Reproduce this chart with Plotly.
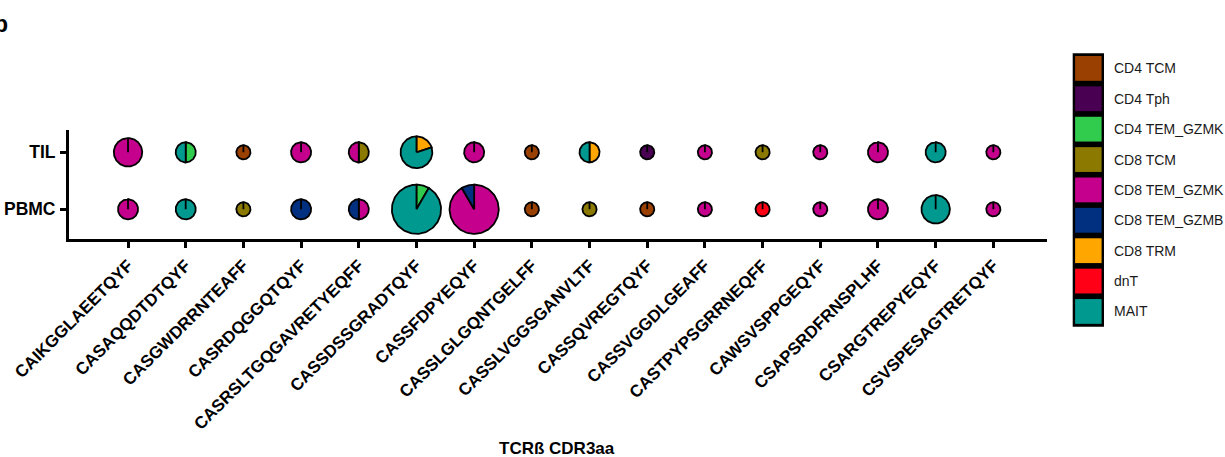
import numpy as np
import plotly.graph_objects as go

# TCRβ CDR3 amino-acid sequences (x axis)
clonotypes = [
    "CAIKGGLAEETQYF", "CASAQQDTDTQYF", "CASGWDRRNTEAFF", "CASRDQGGQTQYF",
    "CASRSLTGQGAVRETYEQFF", "CASSDSSGRADTQYF", "CASSFDPYEQYF", "CASSLGLGQNTGELFF",
    "CASSLVGGSGANVLTF", "CASSQVREGTQYF", "CASSVGGDLGEAFF", "CASTPYPSGRRNEQFF",
    "CAWSVSPPGEQYF", "CSAPSRDFRNSPLHF", "CSARGTREPYEQYF", "CSVSPESAGTRETQYF",
]

# tissues (y axis, top to bottom)
samples = ["TIL", "PBMC"]

# T-cell subsets and their colours (legend order = slice order)
cell_types = [
    "CD4 TCM", "CD4 Tph", "CD4 TEM_GZMK", "CD8 TCM", "CD8 TEM_GZMK",
    "CD8 TEM_GZMB", "CD8 TRM", "dnT", "MAIT",
]
cell_colors = [
    "#9A4000", "#4A0052", "#31CC4E", "#8C7A00", "#C4008C",
    "#00307F", "#FFA600", "#FF0016", "#00998F",
]

# cells per subset for each clonotype in the tumour infiltrate
til_counts = [
    {"CD8 TEM_GZMK": 4},
    {"CD4 TEM_GZMK": 1, "MAIT": 1},
    {"CD4 TCM": 1},
    {"CD8 TEM_GZMK": 2},
    {"CD8 TCM": 1, "CD8 TEM_GZMK": 1},
    {"CD8 TRM": 1, "MAIT": 4},
    {"CD8 TEM_GZMK": 2},
    {"CD4 TCM": 1},
    {"CD8 TRM": 1, "MAIT": 1},
    {"CD4 Tph": 1},
    {"CD8 TEM_GZMK": 1},
    {"CD8 TCM": 1},
    {"CD8 TEM_GZMK": 1},
    {"CD8 TEM_GZMK": 2},
    {"MAIT": 2},
    {"CD8 TEM_GZMK": 1},
]

# cells per subset for each clonotype in peripheral blood
pbmc_counts = [
    {"CD8 TEM_GZMK": 2},
    {"MAIT": 2},
    {"CD8 TCM": 1},
    {"CD8 TEM_GZMB": 2},
    {"CD8 TEM_GZMK": 1, "CD8 TEM_GZMB": 1},
    {"CD4 TEM_GZMK": 1, "MAIT": 11},
    {"CD8 TEM_GZMK": 11, "CD8 TEM_GZMB": 1},
    {"CD4 TCM": 1},
    {"CD8 TCM": 1},
    {"CD4 TCM": 1},
    {"CD8 TEM_GZMK": 1},
    {"dnT": 1},
    {"CD8 TEM_GZMK": 1},
    {"CD8 TEM_GZMK": 2},
    {"MAIT": 4},
    {"CD8 TEM_GZMK": 1},
]

# ---- layout geometry ----
W, H = 1225, 457
M = dict(l=69, r=178, t=130, b=218, pad=0)
x_range = [-1.023, 15.93]
y_range = [-0.521, 1.391]
plot_w = W - M["l"] - M["r"]
plot_h = H - M["t"] - M["b"]
px_per_x = plot_w / (x_range[1] - x_range[0])
px_per_y = plot_h / (y_range[1] - y_range[0])

FONT = "Liberation Sans, Arial, sans-serif"


def pie_radius_px(total):
    # pie area grows with clone size
    return 7.1 * np.sqrt(total)


fig = go.Figure()

color_of = dict(zip(cell_types, cell_colors))
for s_idx, counts in enumerate([til_counts, pbmc_counts]):
    yc = len(samples) - 1 - s_idx
    for xc, clone in enumerate(counts):
        total = sum(clone.values())
        r = pie_radius_px(total)
        rx, ry = r / px_per_x, r / px_per_y
        start = 0
        for ct in cell_types:
            n = clone.get(ct, 0)
            if n == 0:
                continue
            a0 = 2 * np.pi * start / total
            a1 = 2 * np.pi * (start + n) / total
            ang = np.linspace(a0, a1, max(4, int(120 * n / total) + 2))
            xs = np.concatenate([[xc], xc + rx * np.sin(ang), [xc]])
            ys = np.concatenate([[yc], yc + ry * np.cos(ang), [yc]])
            fig.add_trace(go.Scatter(
                x=xs, y=ys, mode="lines", fill="toself",
                fillcolor=color_of[ct],
                line=dict(color="black", width=1.8),
                hoverinfo="skip", showlegend=False,
            ))
            start += n


def to_paper_x(px):
    return (px - M["l"]) / plot_w


def to_paper_y(py):
    return 1 - (py - M["t"]) / plot_h


# ---- legend: stacked swatches with black frame ----
shapes = []
annotations = []
lx0, lx1 = 1072.7, 1104.0
ly0, pitch = 53.3, 30.38
shapes.append(dict(
    type="rect", xref="paper", yref="paper",
    x0=to_paper_x(lx0), x1=to_paper_x(lx1),
    y0=to_paper_y(ly0), y1=to_paper_y(ly0 + pitch * len(cell_types)),
    fillcolor="black", line=dict(width=0), layer="above",
))
for i, (ct, col) in enumerate(zip(cell_types, cell_colors)):
    top = ly0 + 2.7 + pitch * i
    shapes.append(dict(
        type="rect", xref="paper", yref="paper",
        x0=to_paper_x(lx0 + 2.4), x1=to_paper_x(lx1 - 2.4),
        y0=to_paper_y(top), y1=to_paper_y(top + 24.8),
        fillcolor=col, line=dict(width=0), layer="above",
    ))
    annotations.append(dict(
        xref="paper", yref="paper", x=to_paper_x(1111.5), y=to_paper_y(top + 12.4),
        xanchor="left", yanchor="middle", showarrow=False, text=ct,
        font=dict(family=FONT, size=14, color="#1a1a1a"),
    ))

# axis title and panel letter
annotations.append(dict(
    xref="paper", yref="paper", x=to_paper_x(557), y=to_paper_y(448),
    xanchor="center", yanchor="middle", showarrow=False, text="TCRß CDR3aa",
    font=dict(family=FONT, size=17, color="black", weight="bold"),
))
annotations.append(dict(
    xref="paper", yref="paper", x=to_paper_x(-8), y=to_paper_y(24),
    xanchor="left", yanchor="middle", showarrow=False, text="b",
    font=dict(family=FONT, size=23, color="black", weight="bold"),
))

axis_style = dict(
    showline=True, linewidth=3, linecolor="black",
    ticks="outside", ticklen=6, tickwidth=3, tickcolor="black",
    showgrid=False, zeroline=False, fixedrange=True, automargin=False,
)

fig.update_layout(
    width=W, height=H, margin=M,
    paper_bgcolor="white", plot_bgcolor="white",
    showlegend=False,
    xaxis=dict(range=x_range, tickmode="array",
               tickvals=list(range(len(clonotypes))), ticktext=clonotypes,
               tickangle=-45, ticklabelstandoff=1,
               tickfont=dict(family=FONT, size=17, color="black", weight="bold"),
               **axis_style),
    yaxis=dict(range=y_range, tickmode="array",
               tickvals=[len(samples) - 1 - i for i in range(len(samples))],
               ticktext=samples, ticklabelstandoff=1,
               tickfont=dict(family=FONT, size=17.5, color="black", weight="bold"),
               **axis_style),
    shapes=shapes, annotations=annotations,
)

fig.write_html("out.html")
